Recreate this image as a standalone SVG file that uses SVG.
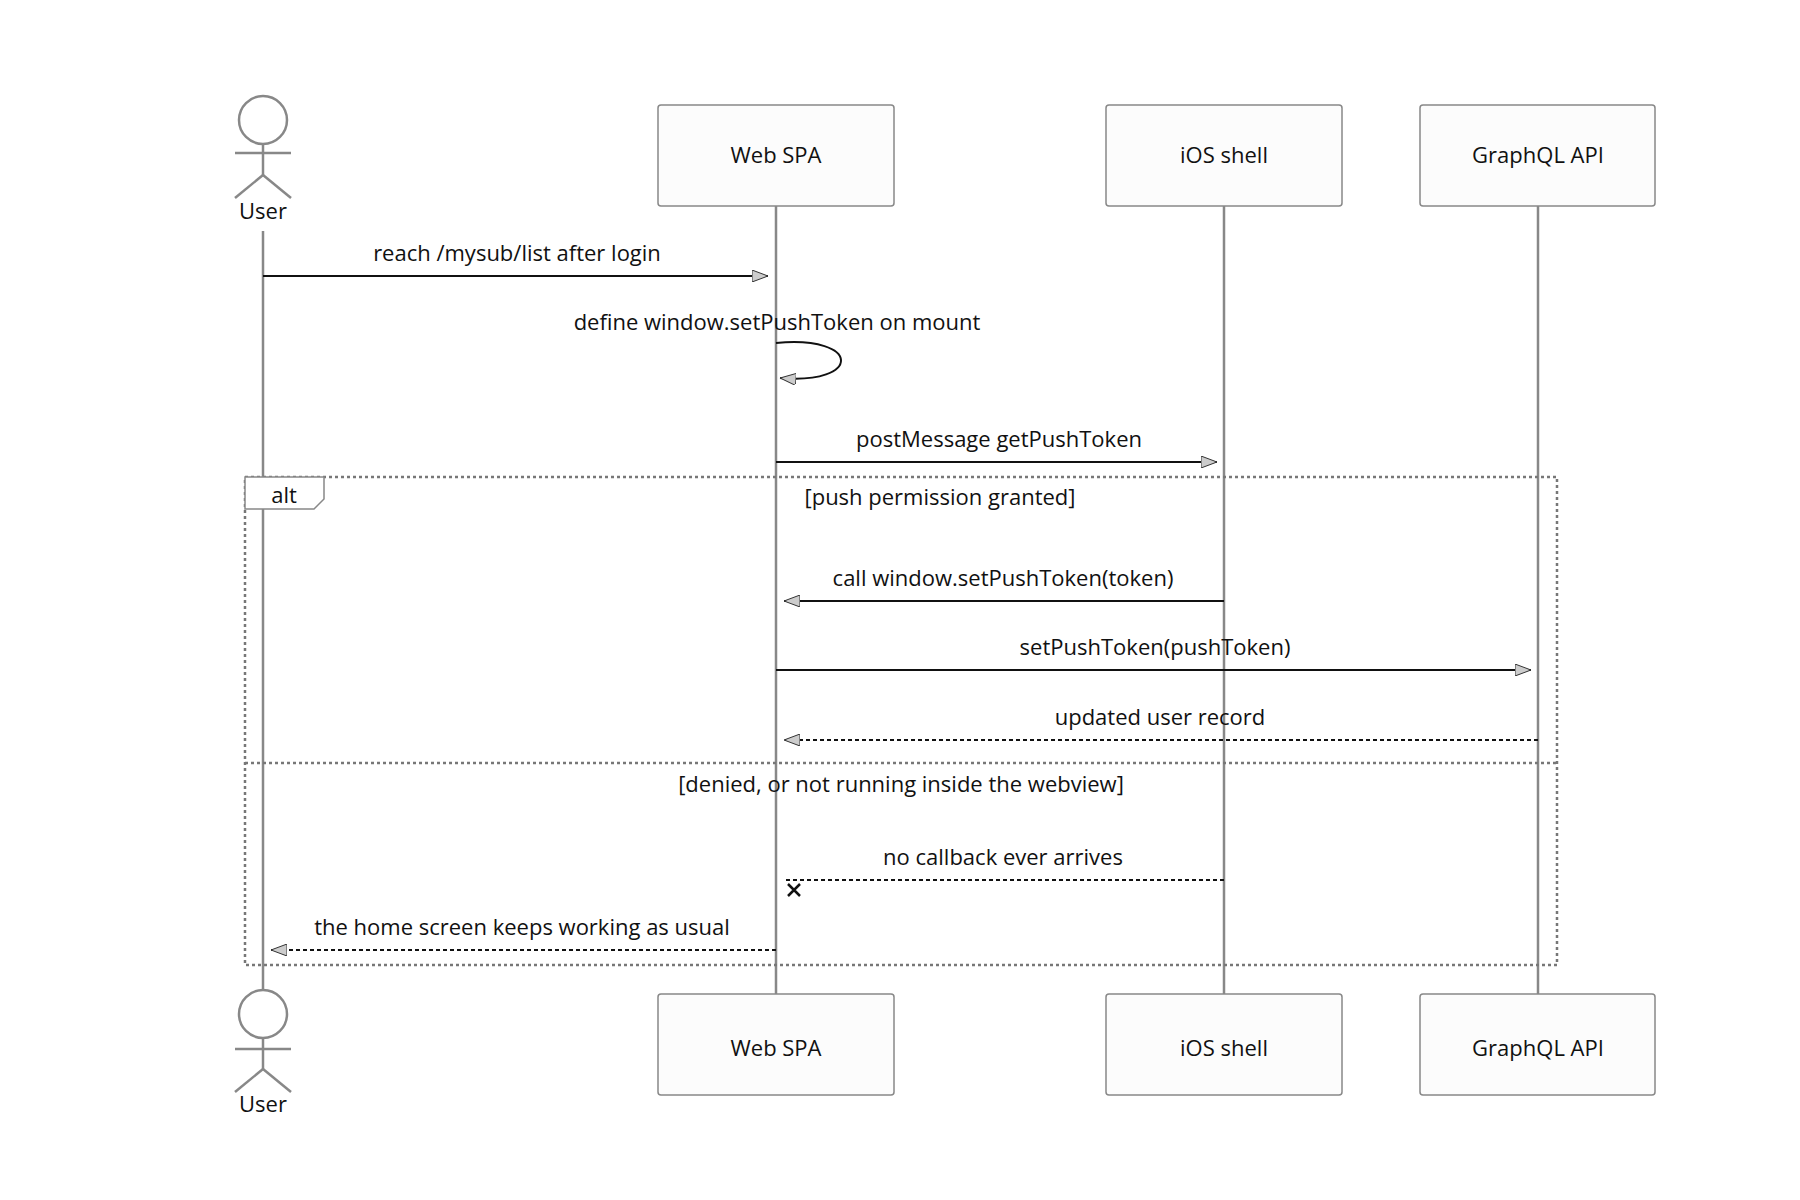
<svg xmlns="http://www.w3.org/2000/svg" width="1800" height="1200" viewBox="0 0 1800 1200">
<style>
.box{fill:#fcfcfc;stroke:#888;stroke-width:1.5}
.life{stroke:#888;stroke-width:2.5}
.t{font-family:"Open Sans","DejaVu Sans",sans-serif;font-size:22px;fill:#111;text-anchor:middle}
.m{font-family:"Open Sans","DejaVu Sans",sans-serif;font-size:22px;fill:#111;text-anchor:middle}
.msg{stroke:#111;stroke-width:2;fill:none}
.dash{stroke-dasharray:4,3}
.act{fill:#fff;stroke:#888;stroke-width:2.5}
.frame{fill:none;stroke:#777;stroke-width:2.5;stroke-dasharray:3,3}
</style>
<defs>
<marker id="ah" viewBox="0 0 16 12" refX="16" refY="6" markerWidth="16" markerHeight="12" orient="auto" markerUnits="userSpaceOnUse">
<path d="M0,0 L16,6 L0,12 z" fill="#ccc" stroke="#333" stroke-width="1"/>
</marker>
</defs>
<rect width="1800" height="1200" fill="#fff"/>
<g id="lifelines">
<line class="life" x1="263" y1="231" x2="263" y2="990"/>
<line class="life" x1="776" y1="206" x2="776" y2="994"/>
<line class="life" x1="1224" y1="206" x2="1224" y2="994"/>
<line class="life" x1="1538" y1="206" x2="1538" y2="994"/>
</g>
<g id="user-top">
<circle class="act" cx="263" cy="120" r="24"/>
<line class="act" x1="263" y1="144" x2="263" y2="175"/>
<line class="act" x1="235" y1="153" x2="291" y2="153"/>
<line class="act" x1="263" y1="175" x2="235" y2="198"/>
<line class="act" x1="263" y1="175" x2="291" y2="198"/>
<text class="t" x="263" y="219">User</text>
</g>
<g id="user-bottom">
<circle class="act" cx="263" cy="1014" r="24"/>
<line class="act" x1="263" y1="1038" x2="263" y2="1069"/>
<line class="act" x1="235" y1="1049" x2="291" y2="1049"/>
<line class="act" x1="263" y1="1069" x2="235" y2="1092"/>
<line class="act" x1="263" y1="1069" x2="291" y2="1092"/>
<text class="t" x="263" y="1112">User</text>
</g>
<g id="webspa-top"><rect class="box" x="658" y="105" width="236" height="101" rx="3"/><text class="t" x="776" y="163">Web SPA</text></g>
<g id="ios-top"><rect class="box" x="1106" y="105" width="236" height="101" rx="3"/><text class="t" x="1224" y="163">iOS shell</text></g>
<g id="gql-top"><rect class="box" x="1420" y="105" width="235" height="101" rx="3"/><text class="t" x="1538" y="163">GraphQL API</text></g>
<g id="webspa-bottom"><rect class="box" x="658" y="994" width="236" height="101" rx="3"/><text class="t" x="776" y="1056">Web SPA</text></g>
<g id="ios-bottom"><rect class="box" x="1106" y="994" width="236" height="101" rx="3"/><text class="t" x="1224" y="1056">iOS shell</text></g>
<g id="gql-bottom"><rect class="box" x="1420" y="994" width="235" height="101" rx="3"/><text class="t" x="1538" y="1056">GraphQL API</text></g>
<g id="alt-frame">
<rect class="frame" x="245" y="477" width="1312" height="488"/>
<line class="frame" x1="245" y1="763" x2="1557" y2="763"/>
<path d="M245,477 L324,477 L324,499 L314,509 L245,509 z" fill="#fff" stroke="#888" stroke-width="1.5"/>
<text class="m" x="284" y="503">alt</text>
<text class="m" x="940" y="505">[push permission granted]</text>
<text class="m" x="901" y="792">[denied, or not running inside the webview]</text>
</g>
<g id="connectors">
<line class="msg" x1="263" y1="276" x2="768" y2="276" marker-end="url(#ah)"/>
<text class="m" x="517" y="261">reach /mysub/list after login</text>
<path class="msg" d="M776,343 C862,335 862,385 780,378" marker-end="url(#ah)"/>
<text class="m" x="777" y="330">define window.setPushToken on mount</text>
<line class="msg" x1="776" y1="462" x2="1217" y2="462" marker-end="url(#ah)"/>
<text class="m" x="999" y="447">postMessage getPushToken</text>
<line class="msg" x1="1224" y1="601" x2="784" y2="601" marker-end="url(#ah)"/>
<text class="m" x="1003" y="586">call window.setPushToken(token)</text>
<line class="msg" x1="776" y1="670" x2="1531" y2="670" marker-end="url(#ah)"/>
<text class="m" x="1155" y="655">setPushToken(pushToken)</text>
<line class="msg dash" x1="1538" y1="740" x2="784" y2="740" marker-end="url(#ah)"/>
<text class="m" x="1160" y="725">updated user record</text>
<line class="msg dash" x1="1224" y1="880" x2="784" y2="880"/>
<path d="M788,884 L800,896 M800,884 L788,896" stroke="#111" stroke-width="2.5"/>
<text class="m" x="1003" y="865">no callback ever arrives</text>
<line class="msg dash" x1="776" y1="950" x2="271" y2="950" marker-end="url(#ah)"/>
<text class="m" x="522" y="935">the home screen keeps working as usual</text>
</g>
</svg>
